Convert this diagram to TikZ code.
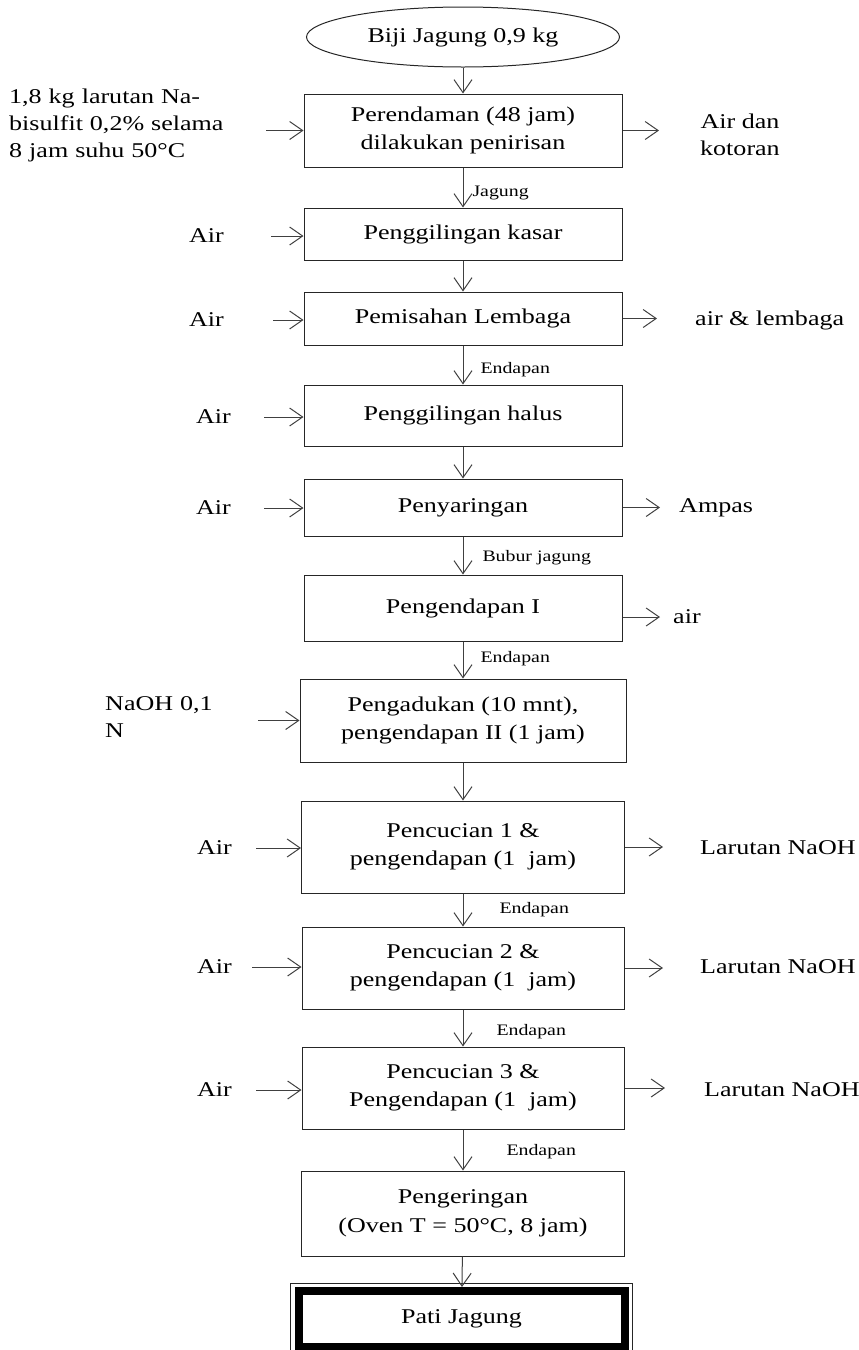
\documentclass[tikz,border=0pt]{standalone}
\usepackage{fontspec}
\setmainfont{Liberation Serif}[FakeStretch=1.24]
\usetikzlibrary{shapes.geometric, arrows.meta, positioning}

\begin{document}
\begin{tikzpicture}[
    x=1pt, y=-1pt,
    proses/.style={rectangle, draw=black!85, line width=1pt, minimum width=318pt, align=center, inner sep=0pt, font=\fontsize{21}{28.5}\selectfont},
    arrow/.style={-{Straight Barb[length=13pt, width=18pt]}, draw=black!75, line width=1pt},
    teks/.style={inner sep=0pt, font=\fontsize{21}{27}\selectfont},
    ket/.style={inner sep=0pt, font=\fontsize{16}{18}\selectfont}
]
    \useasboundingbox (0,0) rectangle (859,1350);
    \clip (0,0) rectangle (859,1350);

    % alur utama
    \node[ellipse, draw=black!85, line width=1pt, minimum width=313pt, minimum height=60pt, inner sep=0pt, font=\fontsize{21}{22}\selectfont] (biji) at (463,37) {Biji Jagung 0,9 kg};
    \node[proses, minimum height=73pt] (p1) at (463,130.5) {Perendaman (48 jam)\\dilakukan penirisan};
    \node[proses, minimum height=52pt] (p2) at (463,234) {Penggilingan kasar};
    \node[proses, minimum height=53pt] (p3) at (463,318.5) {Pemisahan Lembaga};
    \node[proses, minimum height=61pt] (p4) at (463,415.5) {Penggilingan halus};
    \node[proses, minimum height=57pt] (p5) at (463,507.5) {Penyaringan};
    \node[proses, minimum height=66pt] (p6) at (463,608) {Pengendapan I};
    \node[proses, minimum height=83pt, minimum width=326pt] (p7) at (463,720.5) {Pengadukan (10 mnt),\\pengendapan II (1 jam)};
    \node[proses, minimum height=92pt, minimum width=323pt] (p8) at (463,847) {Pencucian 1 \&\\pengendapan (1~ jam)};
    \node[proses, minimum height=82pt, minimum width=322pt] (p9) at (463,968) {Pencucian 2 \&\\pengendapan (1~ jam)};
    \node[proses, minimum height=82pt, minimum width=322pt] (p10) at (463,1088) {Pencucian 3 \&\\Pengendapan (1~ jam)};
    \node[proses, minimum height=85pt, minimum width=323pt] (p11) at (463,1213.5) {Pengeringan\\(Oven T = 50°C, 8 jam)};
    \node[draw=black!85, line width=1pt, minimum width=342pt, minimum height=74pt] (patiluar) at (461,1320) {};
    \node[draw=black, line width=8pt, minimum width=326pt, minimum height=56pt, inner sep=0pt, font=\fontsize{21}{22}\selectfont] (pati) at (461.5,1319) {Pati Jagung};

    \draw[arrow] (biji) -- (p1);
    \draw[arrow] (p1) -- node[ket, pos=0.63, right, xshift=9pt] {Jagung} (p2);
    \draw[arrow] (p2) -- (p3);
    \draw[arrow] (p3) -- node[ket, pos=0.62, right, xshift=17pt] {Endapan} (p4);
    \draw[arrow] (p4) -- (p5);
    \draw[arrow] (p5) -- node[ket, pos=0.56, right, xshift=19pt] {Bubur jagung} (p6);
    \draw[arrow] (p6) -- node[ket, pos=0.45, right, xshift=17pt] {Endapan} (p7);
    \draw[arrow] (p7) -- (p8);
    \draw[arrow] (p8) -- node[ket, pos=0.5, right, xshift=36pt] {Endapan} (p9);
    \draw[arrow] (p9) -- node[ket, pos=0.6, right, xshift=33pt] {Endapan} (p10);
    \draw[arrow] (p10) -- node[ket, pos=0.55, right, xshift=43pt] {Endapan} (p11);
    \draw[arrow] (p11) -- (pati);

    % bahan masuk
    \node[teks, anchor=west, align=left, text width=215pt] (bisulfit) at (9,125) {1,8 kg larutan Na-\\bisulfit 0,2\% selama\\8 jam suhu 50°C};
    \node[teks, anchor=east] (air2) at (224,236) {Air};
    \node[teks, anchor=east] (air3) at (224,320) {Air};
    \node[teks, anchor=east] (air4) at (231,417) {Air};
    \node[teks, anchor=east] (air5) at (231,508) {Air};
    \node[teks, anchor=west, align=left, text width=120pt] (naoh) at (105,717) {NaOH 0,1\\N};
    \node[teks, anchor=east] (air8) at (232,848) {Air};
    \node[teks, anchor=east] (air9) at (232,967) {Air};
    \node[teks, anchor=east] (air10) at (232,1090) {Air};

    \draw[arrow, shorten <=42pt] (bisulfit.east |- p1.west) -- (p1.west);
    \draw[arrow, shorten <=47pt] (air2.east) -- (air2.east -| p2.west);
    \draw[arrow, shorten <=49pt] (air3.east) -- (air3.east -| p3.west);
    \draw[arrow, shorten <=33pt] (air4.east) -- (air4.east -| p4.west);
    \draw[arrow, shorten <=33pt] (air5.east) -- (air5.east -| p5.west);
    \draw[arrow, shorten <=33pt] (naoh.east |- p7.west) -- (p7.west);
    \draw[arrow, shorten <=24pt] (air8.east) -- (air8.east -| p8.west);
    \draw[arrow, shorten <=20pt] (air9.east) -- (air9.east -| p9.west);
    \draw[arrow, shorten <=24pt] (air10.east) -- (air10.east -| p10.west);

    % hasil samping
    \node[teks, anchor=west, align=center] (kotoran) at (700,135) {Air dan\\kotoran};
    \node[teks, anchor=west] (lembaga) at (695,320) {air \& lembaga};
    \node[teks, anchor=west] (ampas) at (679,508) {Ampas};
    \node[teks, anchor=west] (air6) at (673,617) {air};
    \node[teks, anchor=west] (naoh8) at (700,848) {Larutan NaOH};
    \node[teks, anchor=west] (naoh9) at (700,967) {Larutan NaOH};
    \node[teks, anchor=west] (naoh10) at (704,1090) {Larutan NaOH};

    \draw[arrow, shorten >=41pt] (p1.east) -- (p1.east -| kotoran.west);
    \draw[arrow, shorten >=38pt] (p3.east) -- (p3.east -| lembaga.west);
    \draw[arrow, shorten >=19pt] (p5.east) -- (p5.east -| ampas.west);
    \draw[arrow, shorten >=13pt] (p6.east |- air6.west) -- (air6.west);
    \draw[arrow, shorten >=37pt] (p8.east) -- (p8.east -| naoh8.west);
    \draw[arrow, shorten >=37pt] (p9.east) -- (p9.east -| naoh9.west);
    \draw[arrow, shorten >=39pt] (p10.east) -- (p10.east -| naoh10.west);
\end{tikzpicture}
\end{document}
